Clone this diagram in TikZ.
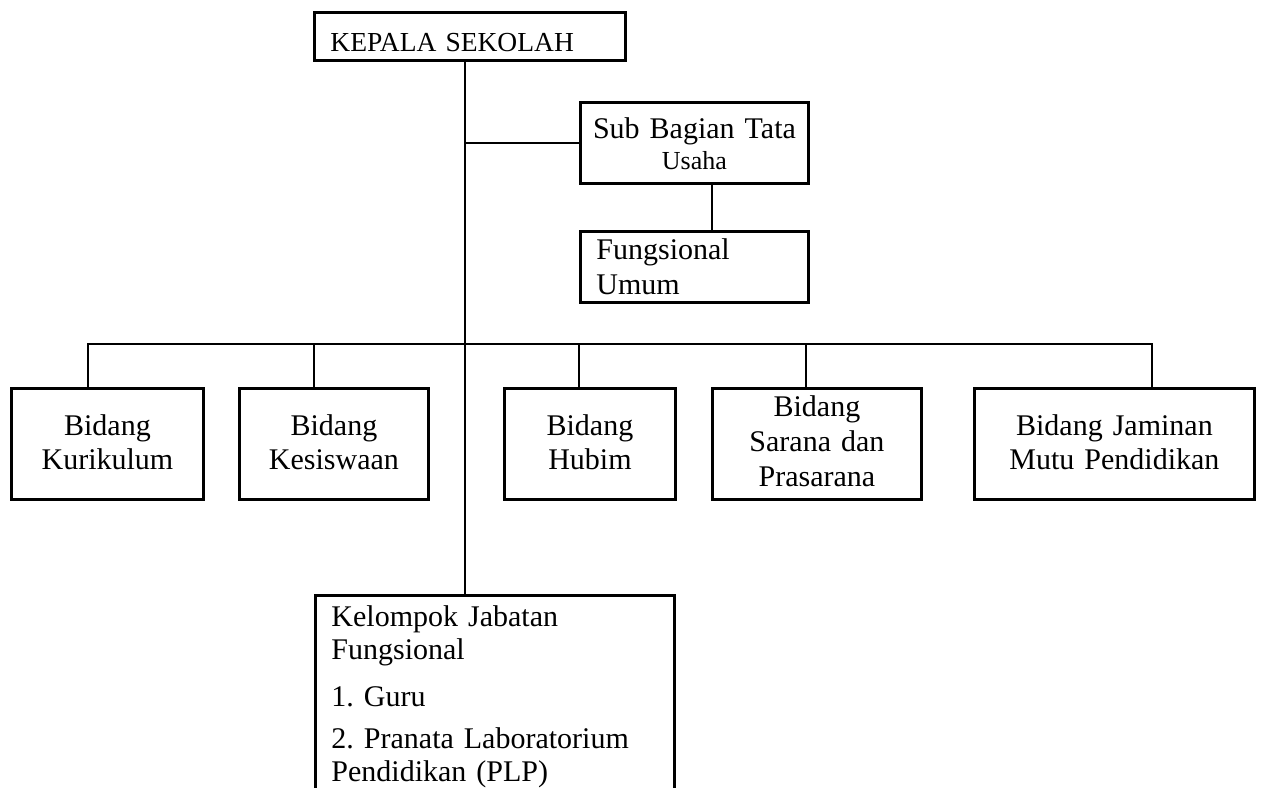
\documentclass[tikz,border=0pt]{standalone}
\usepackage{fontspec}
\setmainfont[WordSpace=0.88]{Liberation Serif}
\frenchspacing
\begin{document}
\begin{tikzpicture}[x=1pt,y=-1pt,
  box/.style={draw, line width=2.9pt, rectangle, inner ysep=0pt, anchor=north west},
  conn/.style={draw, line width=2.9pt},
  rowbox/.style={box, align=center, inner xsep=4pt, text height=47pt, text depth=64pt, font=\fontsize{30}{34}\selectfont}]
\useasboundingbox (0,0) rectangle (1265,787);
\clip (0,0) rectangle (1265,787);
% top
\node[box, inner xsep=16pt, text width=279pt, align=left, text height=39pt, text depth=9pt,
      font=\fontsize{27.5}{32}\selectfont] (kepala) at (313,11) {KEPALA SEKOLAH};
\node[box, inner xsep=4pt, text width=220pt, align=center, text height=36pt, text depth=45pt,
      font=\fontsize{30}{31}\selectfont] (sub) at (579,101) {Sub Bagian Tata\\{\fontsize{26}{31}\selectfont Usaha}};
\node[box, inner xsep=16pt, text width=196pt, align=left, text height=28pt, text depth=43pt,
      font=\fontsize{30}{35}\selectfont] (fung) at (579,230) {Fungsional\\Umum};
% row
\node[rowbox, text width=184pt] (kur) at (10,387) {Bidang\\Kurikulum};
\node[rowbox, text width=181pt] (kes) at (238,387) {Bidang\\Kesiswaan};
\node[rowbox, text width=163pt] (hub) at (503,387) {Bidang\\Hubim};
\node[rowbox, text width=201pt, text height=28pt, text depth=83pt,
      font=\fontsize{30}{35}\selectfont] (sar) at (711,387) {Bidang\\Sarana dan\\Prasarana};
\node[rowbox, text width=272pt] (jam) at (973,387) {Bidang Jaminan\\Mutu Pendidikan};
% bottom
\node[box, inner xsep=16pt, text width=327pt, align=left, text height=31pt, text depth=260pt,
      font=\fontsize{30}{33}\selectfont] (kel) at (314,594)
      {Kelompok Jabatan\\Fungsional\\[14pt]1. Guru\\[9pt]2. Pranata Laboratorium\\Pendidikan (PLP)};
% connectors
\coordinate (tk) at (465,0);
\coordinate (sf) at (712,0);
\draw[conn] (kepala.south -| tk) -- (kel.north -| tk);
\draw[conn] (sub.west -| tk) -- (sub.west);
\draw[conn] (sub.south -| sf) -- (fung.north -| sf);
\coordinate (b1) at (88,344);
\coordinate (b2) at (314,344);
\coordinate (b3) at (579,344);
\coordinate (b4) at (806,344);
\coordinate (b5) at (1152,344);
\draw[conn] (kur.north -| b1) -- (b1) -- (b5) -- (jam.north -| b5);
\draw[conn] (b2) -- (kes.north -| b2);
\draw[conn] (b3) -- (hub.north -| b3);
\draw[conn] (b4) -- (sar.north -| b4);
\end{tikzpicture}
\end{document}
